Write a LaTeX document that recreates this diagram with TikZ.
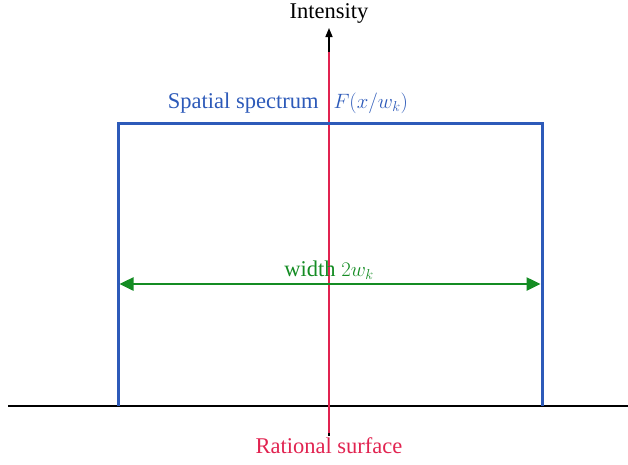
\documentclass[tikz,border=0pt]{standalone}
\usepackage{fontspec}
\setmainfont{Liberation Serif}
\usetikzlibrary{arrows.meta}
\definecolor{specblue}{RGB}{45,90,185}
\definecolor{ratred}{RGB}{225,35,80}
\definecolor{widthgreen}{RGB}{20,140,35}
\tikzset{lbl/.style={font=\fontsize{22.5}{26}\selectfont, inner sep=0pt, anchor=base}}
\begin{document}
\begin{tikzpicture}[x=1pt,y=-1pt]
\useasboundingbox (0,0) rectangle (628,464);
% axes
\coordinate (xl) at (8,406);
\coordinate (xr) at (628,406);
\coordinate (yb) at (329,436);
\coordinate (yt) at (329,28);
\draw[line width=1.5] (xl) -- (xr);
\draw[-{Triangle[length=9pt,width=7pt]}, line width=1.5] (yb) -- (yt);
\node[lbl] (inten) at (329,18) {Intensity};

% rational surface
\coordinate (rb) at (329,433);
\coordinate (rt) at (329,52);
\draw[ratred, line width=2.5] (rb) -- (rt);
\node[lbl, ratred] (rat) at (329,453) {Rational surface};

% spectrum
\coordinate (sl) at (118,406);
\coordinate (sr) at (542,406);
\draw[specblue, line width=3] (sl) -- (118,123) -- (542,123) -- (sr);
\node[lbl, specblue] (spec) at (288,108) {Spatial spectrum\hspace{15pt}$F(x/w_k)$};

% width
\coordinate (wl) at (119.5,284);
\coordinate (wr) at (540.5,284);
\draw[{Triangle[length=14pt,width=13pt]}-{Triangle[length=14pt,width=13pt]}, widthgreen, line width=2.5] (wl) -- (wr);
\node[lbl, widthgreen] (wlab) at (329,276) {width $2w_k$};
\end{tikzpicture}
\end{document}
